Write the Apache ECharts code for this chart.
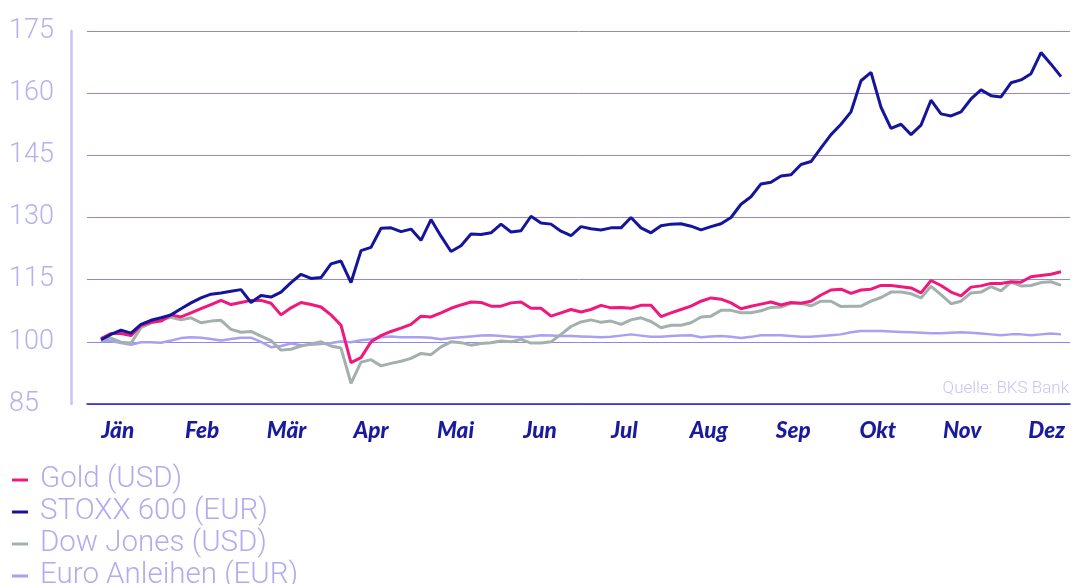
<!DOCTYPE html>
<html>
<head>
<meta charset="utf-8">
<script src="https://cdn.jsdelivr.net/npm/echarts@6/dist/echarts.min.js"></script>
<style>
html,body{margin:0;padding:0;background:#fff;}
#c{width:1072px;height:584px;}
</style>
</head>
<body>
<div id="c"></div>
<script>
const months = ['Jän','Feb','Mär','Apr','Mai','Jun','Jul','Aug','Sep','Okt','Nov','Dez'];
const seriesNames = ['Gold (USD)','STOXX 600 (EUR)','Dow Jones (USD)','Euro Anleihen (EUR)'];
const yTicks = {min: 85, max: 175, step: 15};

const gold = [100.8,102,102,101.5,104,104.7,105,106.5,106,107,108,109,110,109,109.5,110,110,109.3,106.5,108.2,
  109.5,109,108.4,106.5,104,95,96.2,100,101.5,102.5,103.3,104.2,106.2,106,107,108.1,108.9,109.6,109.5,108.6,
  108.6,109.4,109.6,108.1,108.1,106.2,107,107.8,107.2,107.8,108.8,108.2,108.3,108.1,108.8,108.8,106.1,107,107.8,108.6,
  109.8,110.6,110.3,109.4,108,108.6,109.1,109.6,108.9,109.5,109.3,109.8,111.3,112.5,112.7,111.7,112.5,112.7,113.6,113.6,
  113.3,113,111.8,114.8,113.6,112,111.1,113.2,113.5,114.1,114.1,114.5,114.4,115.7,116,116.3,116.9];

const stoxx = [100.5,101.8,102.8,102.1,104.2,105.2,105.8,106.5,108,109.4,110.6,111.5,111.8,112.2,112.6,109.5,111.2,110.8,112,114.3,
  116.3,115.3,115.5,118.8,119.5,114.3,122,122.8,127.4,127.5,126.6,127.2,124.5,129.5,125.5,121.8,123.2,126,125.9,126.3,
  128.4,126.5,126.8,130.3,128.7,128.4,126.7,125.6,127.8,127.3,127,127.5,127.5,130,127.5,126.3,128,128.4,128.5,127.9,
  127,127.8,128.5,130,133.2,135,138.1,138.5,140,140.3,142.8,143.5,146.8,150,152.5,155.5,163,165,156.6,151.5,
  152.5,150,152.3,158.3,155,154.5,155.5,158.6,160.8,159.4,159.1,162.5,163.2,164.7,169.8,167,164];

const dow = [100.5,100.9,99.9,99.7,103.4,104.5,105.3,105.9,105.3,105.8,104.6,105,105.2,103,102.3,102.5,101.4,100.3,98,98.2,
  99,99.5,100,99,98.5,90,95.1,95.7,94.2,94.8,95.3,96,97.2,96.9,98.8,100,99.8,99.2,99.6,99.8,
  100.2,100,100.6,99.7,99.7,100,101.8,103.7,104.8,105.3,104.7,105,104.2,105.3,105.8,104.9,103.4,104,104,104.6,
  106,106.2,107.6,107.6,107,107,107.5,108.3,108.4,109.3,109.3,108.7,109.8,109.8,108.5,108.6,108.6,109.8,110.7,112,
  112,111.6,110.6,113.4,111.4,109.2,109.8,111.8,112,113.3,112.3,114.4,113.5,113.6,114.3,114.5,113.6];

const euro = [100.2,100.2,99.7,99.3,99.9,99.9,99.8,100.3,100.9,101.1,101,100.7,100.3,100.7,101,101,100,98.7,99,99.6,
  99.2,99.3,99.5,99.7,100.1,99.9,100.4,100.6,101.1,101.3,101.1,101.1,101.1,101,100.6,100.9,101.1,101.3,101.5,101.6,
  101.4,101.2,101.1,101.3,101.6,101.5,101.4,101.4,101.3,101.2,101.1,101.2,101.5,101.8,101.5,101.2,101.2,101.4,101.5,101.6,
  101.1,101.3,101.4,101.2,100.9,101.2,101.6,101.6,101.6,101.4,101.2,101.2,101.4,101.6,101.8,102.3,102.6,102.6,102.6,102.5,
  102.4,102.3,102.2,102.1,102.1,102.2,102.3,102.2,102,101.8,101.6,101.8,101.8,101.6,101.8,102,101.8];

// layout helpers (sample index units)
const firstLabelAt = 1.67, labelStep = 8.445;
const monthPos = months.map((m, k) => +(firstLabelAt + k * labelStep).toFixed(3));

const toXY = arr => arr.map((v, i) => [i, v]);

const colors = {gold:'#f0187c', stoxx:'#15159c', dow:'#a3b1ac', euro:'#ab9ff0'};

const chart = echarts.init(document.getElementById('c'), null, {renderer:'canvas'});
chart.setOption({
  animation: false,
  backgroundColor: '#ffffff',
  grid: {left: 87, right: 2, top: 31, bottom: 180, containLabel: false},
  xAxis: {
    type: 'value',
    min: -1.4,
    max: 96.9,
    axisLine: {show: true, onZero: false, lineStyle: {color: '#2323c8', width: 1.5}},
    axisTick: {show: false},
    splitLine: {show: false},
    axisLabel: {
      customValues: monthPos,
      margin: 15,
      fontFamily: 'Lato, "DejaVu Sans", sans-serif',
      fontWeight: 900,
      fontStyle: 'italic',
      fontSize: 22.5,
      color: '#1a1a9e',
      formatter: function (v) {
        const k = Math.round((v - firstLabelAt) / labelStep);
        return months[k] || '';
      }
    }
  },
  yAxis: {
    type: 'value',
    min: yTicks.min,
    max: yTicks.max,
    interval: yTicks.step,
    offset: 16,
    axisLine: {show: true, onZero: false, lineStyle: {color: '#c8c2f5', width: 2.5}},
    axisTick: {show: false},
    splitLine: {show: true, lineStyle: {color: '#8e86ee', width: 1}},
    axisLabel: {
      align: 'left',
      margin: 62,
      padding: [0, 0, 13, 0],
      fontFamily: 'Roboto, "Noto Sans", sans-serif',
      fontWeight: 300,
      fontSize: 27,
      color: '#b6b0ef'
    }
  },
  legend: {
    data: seriesNames,
    orient: 'vertical',
    left: 7,
    top: 459,
    height: 200,
    padding: 5,
    itemGap: 0,
    itemWidth: 16,
    itemHeight: 3,
    icon: 'rect',
    textStyle: {
      fontFamily: 'Roboto, "Noto Sans", sans-serif',
      fontWeight: 300,
      fontSize: 29.5,
      lineHeight: 32,
      color: '#b3abef',
      padding: [0, 0, 0, 7]
    }
  },
  graphic: [{
    type: 'text',
    right: 3,
    top: 380,
    style: {
      text: 'Quelle: BKS Bank',
      fontFamily: 'Roboto, "Noto Sans", sans-serif',
      fontWeight: 300,
      fontSize: 17,
      fill: '#c9c4f3'
    }
  }],
  series: [
    {name: seriesNames[3], type: 'line', data: toXY(euro), showSymbol: false, symbol: 'none', z: 2,
     itemStyle: {color: colors.euro}, lineStyle: {color: colors.euro, width: 2.5}},
    {name: seriesNames[2], type: 'line', data: toXY(dow), showSymbol: false, symbol: 'none', z: 3,
     itemStyle: {color: colors.dow}, lineStyle: {color: colors.dow, width: 3}},
    {name: seriesNames[0], type: 'line', data: toXY(gold), showSymbol: false, symbol: 'none', z: 4,
     itemStyle: {color: colors.gold}, lineStyle: {color: colors.gold, width: 3}},
    {name: seriesNames[1], type: 'line', data: toXY(stoxx), showSymbol: false, symbol: 'none', z: 5,
     itemStyle: {color: colors.stoxx}, lineStyle: {color: colors.stoxx, width: 3}}
  ]
});
</script>
</body>
</html>
